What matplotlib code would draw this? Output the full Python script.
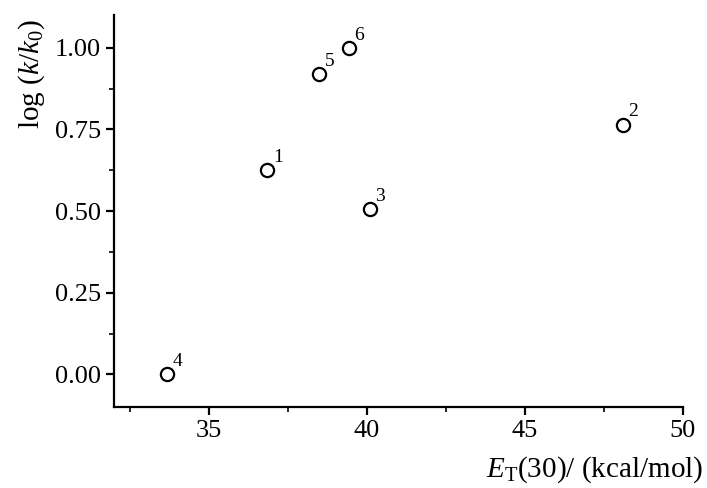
import numpy as np
from matplotlib import pyplot as plt

# solvent polarity vs rate constant
labels = ["1", "2", "3", "4", "5", "6"]
et30 = [36.85, 48.1, 40.1, 33.68, 38.5, 39.43]
logk = [0.625, 0.765, 0.507, 0.0, 0.92, 1.0]

plt.rcParams['font.family'] = ['Liberation Serif', 'DejaVu Serif']
plt.rcParams['mathtext.fontset'] = 'custom'
plt.rcParams['mathtext.rm'] = 'Liberation Serif'
plt.rcParams['mathtext.it'] = 'Liberation Serif:italic'

fig = plt.figure(figsize=(7.07, 4.88), dpi=100)
ax = fig.add_axes([0.161, 0.166, 0.805, 0.803])

ax.plot(et30, logk, linestyle="none", marker="o", markersize=9.5,
        markerfacecolor="white", markeredgecolor="black", markeredgewidth=1.6)

for lab, x, y in zip(labels, et30, logk):
    ax.annotate(lab, (x, y), xytext=(4, 3), textcoords="offset points",
                fontsize=14, ha="left", va="bottom")

ax.set_xlim(32, 50)
ax.set_ylim(-0.1, 1.1)
ax.set_xticks([35, 40, 45, 50])
ax.set_xticks(np.arange(32.5, 50.1, 2.5), minor=True)
ax.set_yticks([0.0, 0.25, 0.5, 0.75, 1.0])
ax.set_yticks(np.arange(0.125, 1.1, 0.25), minor=True)
ax.set_yticklabels(["0.00", "0.25", "0.50", "0.75", "1.00"])

ax.spines["top"].set_visible(False)
ax.spines["right"].set_visible(False)
for s in ["left", "bottom"]:
    ax.spines[s].set_linewidth(1.6)
ax.tick_params(which="major", direction="out", length=6, width=1.6, labelsize=19)
ax.tick_params(which="minor", direction="out", length=3.5, width=1.2)

ax.set_xlabel(r"$E_{\mathrm{T}}$(30)/ (kcal/mol)", fontsize=21)
ax.xaxis.set_label_coords(1.035, -0.16)
ax.xaxis.label.set_ha("right")
ax.xaxis.label.set_va("center")
ax.set_ylabel(r"log ($k$/$k_0$)", fontsize=21)
ax.yaxis.set_label_coords(-0.145, 0.99)
ax.yaxis.label.set_va("center")
ax.yaxis.label.set_ha("right")

fig.savefig("out.png", dpi=100)
